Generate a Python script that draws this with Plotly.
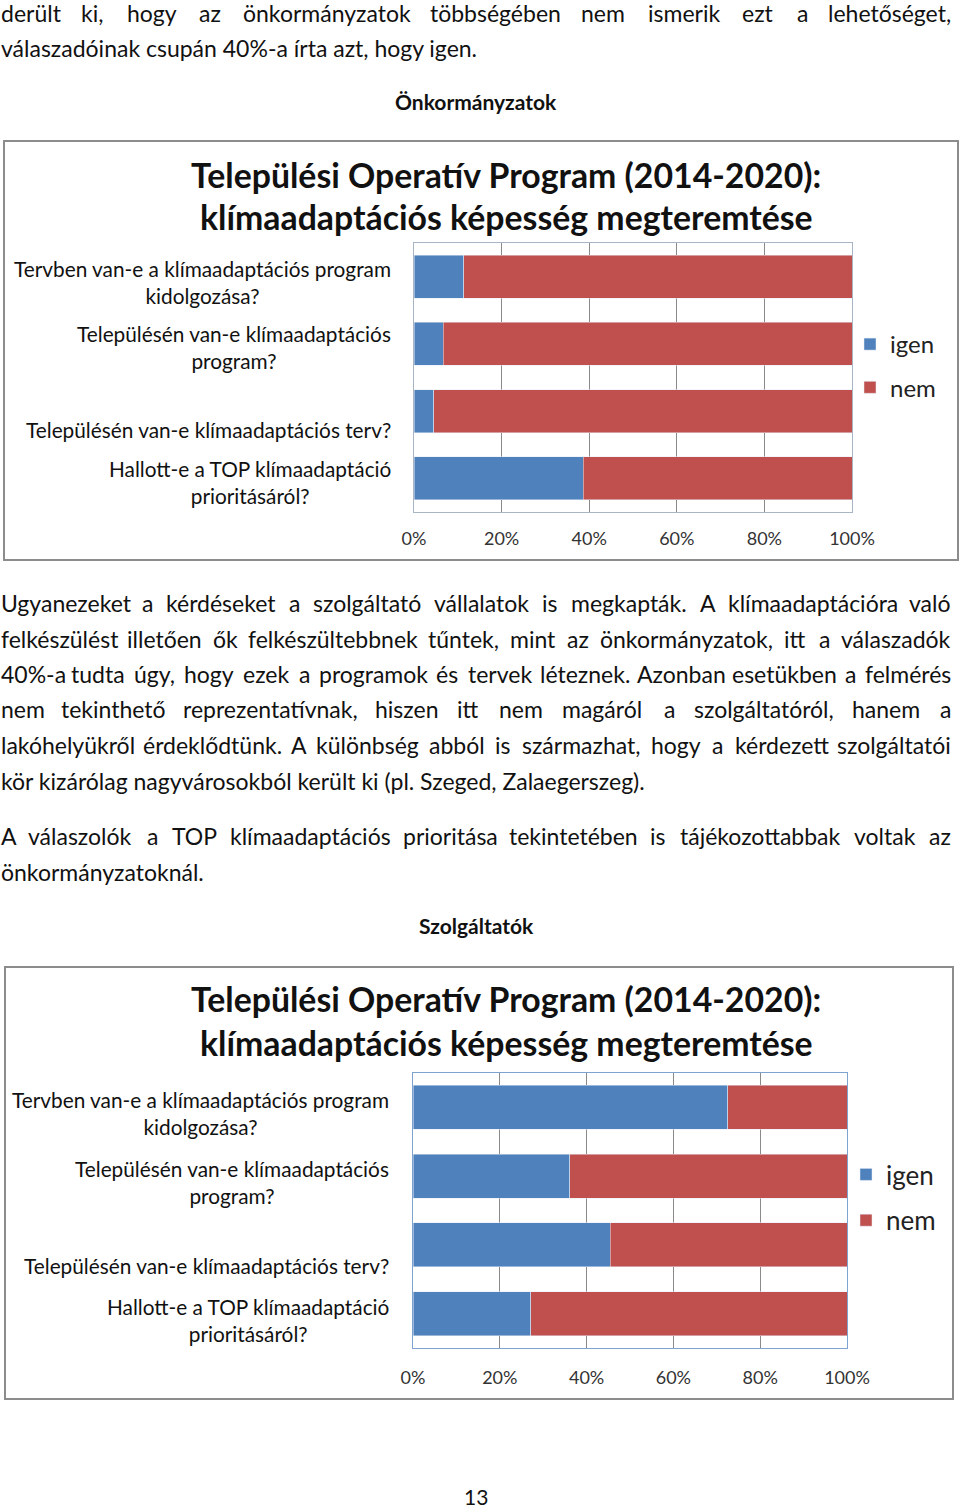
import plotly.graph_objects as go

# questions (top to bottom) and the igen / nem shares in percent
questions = [
    "Tervben van-e a klímaadaptációs program kidolgozása?",
    "Településén van-e klímaadaptációs program?",
    "Településén van-e klímaadaptációs terv?",
    "Hallott-e a TOP klímaadaptáció prioritásáról?",
]
question_labels = [
    "Tervben van-e a klímaadaptációs program<br>kidolgozása?",
    "Településén van-e klímaadaptációs<br>program?",
    "Településén van-e klímaadaptációs terv?",
    "Hallott-e a TOP klímaadaptáció<br>prioritásáról?",
]

onk_igen = [11.4, 6.7, 4.5, 38.6]
onk_nem = [88.6, 93.3, 95.5, 61.4]
szolg_igen = [72.5, 36.1, 45.5, 27.1]
szolg_nem = [27.5, 63.9, 54.5, 72.9]

tick_vals = [0, 20, 40, 60, 80, 100]
tick_text = ["0%", "20%", "40%", "60%", "80%", "100%"]

chart_title = ["Települési Operatív Program (2014-2020):",
               "klímaadaptációs képesség megteremtése"]

# page text around the charts
text_top = [("derült ki, hogy az önkormányzatok többségében nem ismerik ezt a lehetőséget,", True),
            ("válaszadóinak csupán 40%-a írta azt, hogy igen.", False)]
text_mid = [("Ugyanezeket a kérdéseket a szolgáltató vállalatok is megkapták. A klímaadaptációra való", True),
            ("felkészülést illetően ők felkészültebbnek tűntek, mint az önkormányzatok, itt a válaszadók", True),
            ("40%-a tudta úgy, hogy ezek a programok és tervek léteznek. Azonban esetükben a felmérés", True),
            ("nem tekinthető reprezentatívnak, hiszen itt nem magáról a szolgáltatóról, hanem a", True),
            ("lakóhelyükről érdeklődtünk. A különbség abból is származhat, hogy a kérdezett szolgáltatói", True),
            ("kör kizárólag nagyvárosokból került ki (pl. Szeged, Zalaegerszeg).", False)]
text_mid2 = [("A válaszolók a TOP klímaadaptációs prioritása tekintetében is tájékozottabbak voltak az", True),
             ("önkormányzatoknál.", False)]

BLUE = "#4f81bd"
RED = "#c0504d"
FONT = "Lato"
W, H = 960, 1509


def px(x):
    return x / W


def py(y):
    return 1 - y / H


fig = go.Figure()

for igen, nem, xa, ya, leg in [(onk_igen, onk_nem, "x", "y", "legend"),
                              (szolg_igen, szolg_nem, "x2", "y2", "legend2")]:
    fig.add_trace(go.Bar(y=questions, x=igen, name="igen", orientation="h",
                         marker_color=BLUE, xaxis=xa, yaxis=ya, legend=leg,
                         legendgroup="igen" + xa))
    fig.add_trace(go.Bar(y=questions, x=nem, name="nem", orientation="h",
                         marker_color=RED, xaxis=xa, yaxis=ya, legend=leg,
                         legendgroup="nem" + xa))

xcommon = dict(range=[0, 100], tickvals=tick_vals, ticktext=tick_text,
               showgrid=True, gridcolor="#8a8a8a", gridwidth=1,
               showline=True, mirror=True, zeroline=False,
               tickfont=dict(family=FONT, size=18, color="#333333"),
               fixedrange=True)
ycommon = dict(categoryorder="array", categoryarray=questions, autorange="reversed",
               showticklabels=False, showline=True, mirror=True, showgrid=False,
               fixedrange=True)

fig.update_layout(
    width=W, height=H,
    margin=dict(l=0, r=0, t=0, b=0, autoexpand=False),
    paper_bgcolor="white", plot_bgcolor="white",
    barmode="stack", bargap=0.36,
    showlegend=True,
    xaxis=dict(domain=[px(414), px(852)], anchor="y", linecolor="#a9b5c4",
               ticklabelstandoff=10, **xcommon),
    yaxis=dict(domain=[py(512), py(243)], anchor="x", linecolor="#a9b5c4", **ycommon),
    xaxis2=dict(domain=[px(413), px(847)], anchor="y2", linecolor="#7fa3cf",
                ticklabelstandoff=13, **xcommon),
    yaxis2=dict(domain=[py(1348), py(1073)], anchor="x2", linecolor="#7fa3cf", **ycommon),
    legend=dict(x=px(850), y=py(322), xanchor="left", yanchor="top",
                traceorder="grouped", tracegroupgap=9, bgcolor="rgba(0,0,0,0)",
                font=dict(family=FONT, size=24, color="#222222")),
    legend2=dict(x=px(846), y=py(1151), xanchor="left", yanchor="top",
                 traceorder="grouped", tracegroupgap=9, bgcolor="rgba(0,0,0,0)",
                 font=dict(family=FONT, size=26, color="#222222")),
)

# chart frames
fig.add_shape(type="rect", xref="paper", yref="paper", x0=px(4), x1=px(958),
              y0=py(560), y1=py(141), line=dict(color="#8c8c8c", width=2))
fig.add_shape(type="rect", xref="paper", yref="paper", x0=px(5), x1=px(953),
              y0=py(1399), y1=py(967), line=dict(color="#8c8c8c", width=2))

# chart titles
for yy, (t1, t2) in [((175, 217), chart_title), ((999, 1043), chart_title)]:
    for line, y0 in zip((t1, t2), yy):
        fig.add_annotation(text="<b>" + line + "</b>", xref="paper", yref="paper",
                           x=px(506), y=py(y0), showarrow=False, xanchor="center",
                           yanchor="middle", font=dict(family=FONT, size=33.8, color="#111111"))

# category labels next to the bars
for ya, xr, shifts in [("y", 393, [-5, -3, -18, -4]), ("y2", 391, [-6, -6, -21, -6])]:
    for q, lab, s in zip(questions, question_labels, shifts):
        fig.add_annotation(text=lab, xref="paper", yref=ya, x=px(xr), y=q,
                           yshift=s, showarrow=False, xanchor="right", yanchor="middle",
                           align="center", font=dict(family=FONT, size=20.8, color="#111111"))


# rough Lato character widths in em, used to spread words on justified lines
def char_w(c):
    if c in "iljíÍ.,:;!'|I":
        return 0.25
    if c in "ftr()":
        return 0.34
    if c in "szc":
        return 0.43
    if c in "mM":
        return 0.84
    if c in "wW%":
        return 0.76
    if c.isdigit():
        return 0.58
    if c == "-":
        return 0.33
    if c.isupper():
        return 0.64
    return 0.54


BODY = 23


def add_paragraph(lines, y_start, step=35.5):
    for i, (line, justify) in enumerate(lines):
        y = py(y_start + i * step)
        if not justify:
            fig.add_annotation(text=line, xref="paper", yref="paper", x=0, y=y,
                               showarrow=False, xanchor="left", yanchor="middle", borderpad=0,
                               font=dict(family=FONT, size=BODY, color="#111111"))
            continue
        words = line.split(" ")
        widths = [sum(char_w(c) for c in w) * BODY * 0.97 for w in words]
        gap = (952 - sum(widths)) / (len(words) - 1)
        x = 0
        for j, (w, ww) in enumerate(zip(words, widths)):
            if j == 0:
                xpos, anchor = x, "left"
            elif j == len(words) - 1:
                xpos, anchor = 952, "right"
            else:
                xpos, anchor = x + ww / 2, "center"
            fig.add_annotation(text=w, xref="paper", yref="paper", x=px(xpos), y=y,
                               showarrow=False, xanchor=anchor, yanchor="middle", borderpad=0,
                               font=dict(family=FONT, size=BODY, color="#111111"))
            x += ww + gap


add_paragraph(text_top, 12.5)
add_paragraph(text_mid, 603)
add_paragraph(text_mid2, 836)

# headings and page number
for txt, y0, bold in [("Önkormányzatok", 102, True), ("Szolgáltatók", 926, True), ("13", 1496, False)]:
    fig.add_annotation(text=("<b>%s</b>" % txt) if bold else txt, xref="paper", yref="paper",
                       x=px(476), y=py(y0), showarrow=False, xanchor="center",
                       yanchor="middle", font=dict(family=FONT, size=21, color="#111111"))

fig.write_html("out.html", config={"displayModeBar": False},
               post_script="document.body.style.margin = '0px';")
